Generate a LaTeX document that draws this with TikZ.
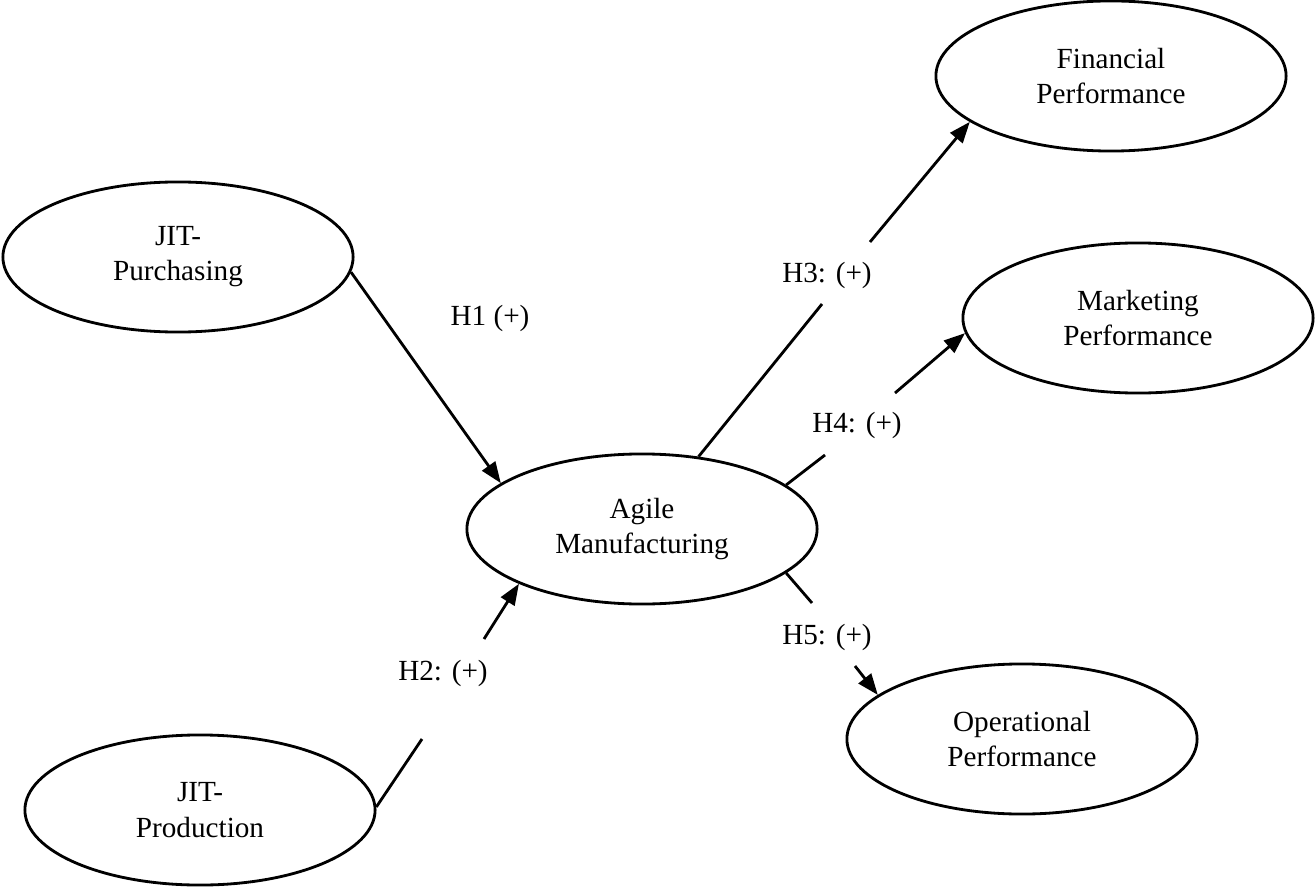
\documentclass[tikz,border=0pt]{standalone}
\usepackage{fontspec}
\setmainfont{Liberation Serif}
\usetikzlibrary{shapes.geometric,arrows.meta}

\begin{document}
\begin{tikzpicture}[x = 0.01cm, y = -0.01cm,
	construct/.style = {ellipse, draw, line width = 0.8pt, minimum width = 3.5cm, minimum height = 1.5cm, inner sep = 0pt, align = center, font = \fontsize{8.3}{10}\selectfont},
	hyp/.style = {font = \fontsize{8.3}{10}\selectfont},
	link/.style = {line width = 0.8pt},
	effect/.style = {line width = 0.8pt, -{Triangle[length = 6pt, width = 4.5pt]}}]
	\useasboundingbox (0, 0) rectangle (1315, 888);
	\node[construct] (JP) at (178, 257) {JIT-\\Purchasing};
	\node[construct] (JPr) at (200, 810) {JIT-\\Production};
	\node[construct] (AM) at (642, 529) {Agile\\Manufacturing};
	\node[construct] (FP) at (1111, 76) {Financial\\Performance};
	\node[construct] (MP) at (1138, 318) {Marketing\\Performance};
	\node[construct] (OP) at (1022, 739) {Operational\\Performance};
	\node[hyp] (H1) at (490, 318) {H1 (+)};
	\node[hyp] (H2) at (443, 673) {H2: (+)};
	\node[hyp] (H3) at (827, 275) {H3: (+)};
	\node[hyp] (H4) at (857, 425) {H4: (+)};
	\node[hyp] (H5) at (827, 637) {H5: (+)};
	\coordinate (H2a) at (422, 739);
	\coordinate (H2b) at (484, 639);
	\coordinate (H3a) at (822, 304);
	\coordinate (H3b) at (870, 242);
	\coordinate (H4a) at (825, 455);
	\coordinate (H4b) at (895, 393);
	\coordinate (H5a) at (812, 603);
	\coordinate (H5b) at (855, 666);
	\draw[effect] (JP.-5) -- (AM.162);
	\draw[link] (JPr.1) -- (H2a);
	\draw[effect] (H2b) -- (AM.-156);
	\draw[link] (AM.52) -- (H3a);
	\draw[effect] (H3b) -- (FP.-162);
	\draw[link] (AM.17) -- (H4a);
	\draw[effect] (H4b) -- (MP.-175);
	\draw[link] (AM.-17) -- (H5a);
	\draw[effect] (H5b) -- (OP.163);
\end{tikzpicture}
\end{document}
